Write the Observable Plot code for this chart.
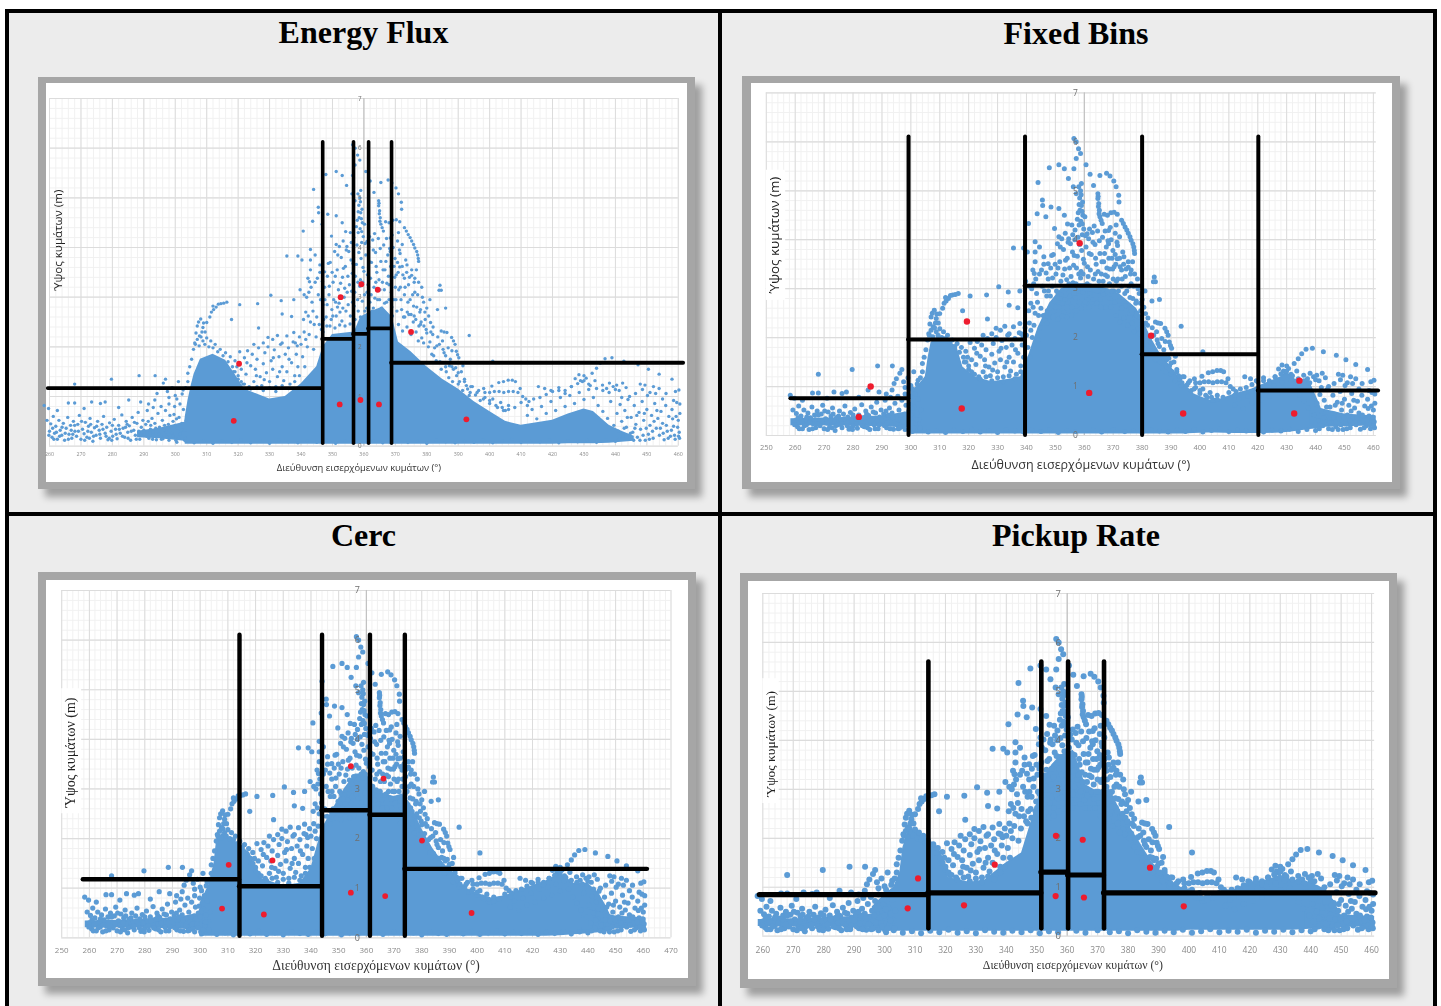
<!DOCTYPE html>
<html lang="el"><head><meta charset="utf-8">
<script src="https://cdn.jsdelivr.net/npm/d3@7"></script>
<script src="https://cdn.jsdelivr.net/npm/@observablehq/plot@0.6"></script>
<style>
html,body{margin:0;padding:0;background:#fff;overflow:hidden;width:1441px;height:1006px}
#page{position:relative;width:1441px;height:1006px;overflow:hidden}
.cell{position:absolute;background:#ececec}
.bar{position:absolute;background:#000}
.frame{position:absolute;background:#a6a6a6;box-shadow:7px 8px 7px rgba(0,0,0,.33)}
.white{position:absolute;background:#fff}
.title{position:absolute;width:712px;text-align:center;font:bold 32px "Liberation Serif",serif;color:#000;line-height:36px}
svg{position:absolute;overflow:visible;filter:blur(.4px)}
</style></head><body><div id="page"></div>
<script>
const peakDots=[[356.4,6.07],[357.2,6],[358,5.86],[358.7,5.76],[357.2,5.66],[360.6,5.53],[347.9,5.47],[351.2,5.53],[353.1,5.45],[356.4,5.45],[362,5.34],[365.4,5.31],[367.7,5.36],[368.9,5.3],[370.2,5.2],[371,5.08],[371.9,4.91],[372,4.77],[354.5,5.25],[344,5.17],[363.2,5.11],[359,5.15],[358.7,5],[358.4,4.85],[359,4.7],[358.5,4.6],[359.5,4.5],[356.2,5.08],[357.2,4.94],[359.4,4.77],[360.2,4.47],[357.6,4.42],[358.2,4.3],[356.8,4.2],[359.8,4.22],[361,4.12],[358.1,5.08],[358.9,4.92],[358.2,4.72],[359.2,4.58],[357.9,4.55],[358.8,4.38],[359.3,4.32]];
const strandDots=[[364.7,4.94],[364.7,4.84],[365,4.74],[365.2,4.6],[365.4,4.47],[366.2,4.33],[366.9,4.52],[369.2,4.55],[371.4,4.52],[372.9,4.4],[374.1,4.26],[375.2,4.13],[376.2,3.99],[377.1,3.85],[377.4,3.72],[376.7,3.55],[376.2,3.38],[368,4.5],[370.3,4.56],[373.5,4.33],[374.7,4.2],[375.8,4.06],[376.8,3.92],[377.3,3.78],[364.8,4.89],[364.9,4.68],[365.1,4.53],[365.8,4.4]];
const leftPeakDots=[[345.5,4.81],[345.6,4.7],[343.7,4.53],[346.7,4.47],[348.5,4.67],[351.2,4.64],[353.1,4.5],[340.7,4.33],[354.2,4.32],[355.7,4.3],[349.7,4.23],[351.2,4.06],[353.4,4.13],[335.5,3.83],[343,3.96],[343,3.75],[344.5,3.85],[346,3.65],[347.5,3.51],[342.2,3.38],[343,3.55],[342.7,3.31],[339,3.83],[340.3,3.75],[341,3.05],[339.7,3.15]];
const rightPeakDots=[[368.4,4.19],[370.7,4.13],[372.2,4.06],[368.4,3.92],[369.9,3.78],[371.4,3.61],[373.7,3.65],[375.2,3.44],[372.9,3.38],[384.2,3.24],[383.9,3.14],[384.6,3.14],[383.4,2.75],[386,2.78],[393.5,2.23],[384.6,2.32],[386.4,2.29],[387.9,2.19],[389,2.05],[389.4,1.91],[390.2,1.78],[381.2,2.49],[381.9,2.25],[385.5,2.3],[388.5,2.12],[389.8,1.84]];
const shoulderDots=[[376,2.62],[378,2.75],[379.5,2.55],[377.5,2.42],[380,2.28],[381,2.1],[382.5,1.98],[384,2.05],[385.5,1.88],[383,1.72],[386,1.6],[387.5,1.75],[388.5,1.55],[387,1.38],[389.5,1.42],[391,1.5],[390,1.25],[392,1.3],[393,1.15],[394.5,1.2],[395.5,1.03],[396.5,1.12],[397,.92],[398.5,.98],[400,.86],[401,.95],[402.5,.78],[403.5,.88],[405,.72],[406,.82],[379,2.9],[380.6,2.62],[382,2.4],[383.5,2.2],[385,2.12],[386.8,1.98],[378.4,2.18],[381.6,1.85],[384.6,1.55],[388,1.92],[391.5,1.62],[393.5,1.02]];
const secondHumpDots=[[401,1.71],[398.1,1.16],[400.7,1.21],[402.9,1.28],[404.4,1.3],[405.9,1.33],[407.2,1.33],[408.2,1.3],[409.7,1.16],[398.5,1.08],[400,1.08],[401.5,1.1],[403,1.1],[404.5,1.08],[406,1.1],[407.5,1.1],[409,1.08],[404.4,.72],[410.5,1],[411.5,.95],[412.5,.9]];
const eastHumpDots=[[428.4,1.44],[430.7,1.37],[432.6,1.47],[434,1.57],[435.2,1.67],[436.7,1.76],[438.9,1.78],[442.7,1.71],[447.2,1.64],[450.5,1.55],[453.9,1.45],[458,1.35],[435.9,1.23],[438.1,1.27],[440.4,1.23],[442.3,1.27],[447.9,1.25],[449.4,1.23],[452.1,1.2],[453.9,1.16],[456.1,1.06],[459.1,1.1],[460.2,1.13],[446.4,1.06],[429.5,1.3],[431.5,1.25],[433.5,1.32],[424,1.12],[426,1.2],[422,1.18],[419.5,1.12],[417.5,1.16],[415.5,1.2],[444.5,1],[451,1.08],[455,.95],[458.5,.92],[460.5,.85],[427.2,1.36],[428.9,1.32],[430,1.42],[437.2,1.16],[439.3,1.2],[441.2,1.12],[443.4,1.18],[448.6,1.14],[450.2,1.02],[452.8,1.06]];
const westEdgeDots=[[268,1.25],[279.7,1.35],[288.5,1.42],[293.6,1.42],[296.9,1.35],[296.2,1.27],[295,1.16],[294.2,1.06],[293.5,.93],[266,.87],[268,.87],[273.4,.89],[276.2,.86],[277.7,.89],[285.2,.93],[289,.89],[258.3,.82],[259.7,.76],[304,1.47],[301,1.3],[302.5,1.13],[297.5,1.1],[299,1.18],[298,.98],[300,1.02],[291.5,.85],[293,.78],[295.5,.8],[282,.78],[271,.76],[262.5,.72]];
const westHumpDots=[[306.2,2.08],[307.7,2.22],[308.8,2.39],[310,2.49],[311.5,2.7],[313,2.8],[314.5,2.87],[316.4,2.9],[320.5,2.85],[326.2,2.87],[330.4,3.04],[333.7,2.93],[337.7,2.95],[334,2.66],[337,2.61],[317.9,2.55],[326.5,2.38],[332.5,2.23],[329.5,2.19],[335.5,2.22],[337.7,2.29],[338.2,2.08],[325,2.05],[328,2.08],[331,2.15],[334,2.08],[309.5,2.3],[311,2.6],[312.2,2.75],[307,2.42],[307.4,2.5],[308.1,2.56],[308.5,2.3],[309,2.48],[306.6,2.28],[313.7,2.86],[315.4,2.88],[312,2.82]];
const midCloudDots=[[318.5,1.5],[319,1.72],[320,1.35],[320.5,1.9],[321,1.55],[321.5,1.25],[322,1.78],[322.5,1.45],[323,1.92],[323.5,1.2],[324,1.62],[324.5,1.85],[325,1.3],[325.5,1.55],[326,1.75],[326.5,1.98],[327,1.4],[327.5,1.22],[328,1.66],[328.5,1.88],[329,1.48],[329.5,2],[330,1.3],[330.5,1.72],[331,1.55],[331.5,1.94],[332,1.2],[332.5,1.4],[333,1.8],[333.5,2.05],[334,1.6],[334.5,1.32],[335,1.85],[335.5,1.5],[336,1.98],[336.5,1.25],[337,1.68],[337.5,2.1],[338,1.42],[338.5,1.85],[339,1.6],[339.5,2.2],[340.5,1.8],[341,2.3],[341.5,2.7],[342,2],[342.5,3.1],[343,2.5],[343.5,2.9],[344,1.95],[344.5,3.3],[345,2.6],[345.5,3.05],[346,3.5],[346.5,2.35],[347,2.85],[347.5,3.2],[319.6,1.6],[322.8,1.68],[325.8,1.42],[328.3,1.34],[331.2,1.78],[333.2,1.5],[336.2,1.75],[338.8,2.02],[340,2.05],[341.2,1.6],[342.6,2.25],[343.8,2.72],[344.8,2.2],[346.2,2.95],[347.2,2.55],[341.8,3.0],[340.8,2.55]];
const coreDots=[[348,2.6],[348.4,3.42],[348.9,3.05],[349.3,3.7],[349.8,2.75],[350.2,3.3],[350.7,3.92],[351,2.9],[351.5,3.55],[351.9,3.15],[352.4,2.7],[352.8,3.8],[353.2,3.4],[353.7,3],[354.1,3.62],[354.6,4.02],[355,2.85],[355.4,3.25],[355.9,3.75],[356.3,3.48],[356.7,4],[357.1,3.1],[357.6,3.66],[358,2.95],[358.4,3.9],[358.9,3.35],[359.3,4.1],[359.7,3.6],[360.2,3.05],[360.6,3.85],[361.1,3.45],[361.5,4.02],[361.9,2.9],[362.4,3.7],[362.8,4.15],[363.2,3.2],[363.7,3.9],[364.1,3.5],[364.6,4.18],[365,2.95],[365.4,3.72],[365.9,3.3],[366.3,4.05],[366.7,3.55],[367.2,2.9],[367.6,3.85],[368,3.25],[368.5,3.62],[368.9,2.8],[369.3,4],[369.8,3.4],[370.2,2.95],[370.7,3.7],[371.1,3.15],[371.5,3.88],[372,2.75],[372.4,3.45],[372.9,3.05],[373.3,3.75],[373.8,2.7],[374.2,3.25],[374.7,2.95],[375.2,3.55],[375.7,2.5],[376.2,3.1],[376.8,2.8],[377.4,3.3],[378,2.45],[378.6,3],[379.4,2.7]];
const coreFillDots=[[347.6,2.95],[348.2,2.42],[348.7,3.68],[349,3.22],[349.6,2.55],[349.9,3.5],[350.4,2.95],[350.9,3.42],[351.2,2.62],[351.7,3.85],[352.1,2.88],[352.6,3.28],[353,2.52],[353.5,3.58],[353.9,3.18],[354.3,2.72],[354.9,3.42],[355.2,3.92],[355.7,2.62],[356.1,3.12],[356.5,3.68],[356.9,2.82],[357.3,3.42],[357.8,4.05],[358.2,2.72],[358.7,3.22],[359.1,3.78],[359.5,2.92],[360,3.52],[360.4,4.08],[360.9,2.78],[361.3,3.25],[361.7,3.72],[362.1,3.38],[362.6,2.72],[363,3.95],[363.5,2.98],[363.9,3.62],[364.3,2.7],[364.8,3.35],[365.2,3.98],[365.6,2.78],[366.1,3.55],[366.5,3.15],[367,3.72],[367.4,2.62],[367.8,3.42],[368.2,3.98],[368.7,3.1],[369.1,2.62],[369.6,3.62],[370,3.2],[370.5,2.72],[370.9,3.5],[371.3,3.95],[371.8,2.95],[372.2,3.62],[372.6,2.6],[373.1,3.2],[373.6,3.5],[374,2.9],[374.5,3.4],[375,2.65],[375.5,3.05],[376,3.3],[376.5,2.55],[377.1,3.05],[377.8,2.7],[378.4,3.2],[379.1,2.42],[380,2.78],[381,2.95],[346.8,3.32],[347,2.3],[345.8,2.45],[345.2,3.38],[344.2,2.45],[343.2,3.2],[342.3,2.62],[341.5,2.15],[352.2,4.02],[354.4,3.95],[356,4.1],[361.8,4.22],[363.4,4.28],[367.2,4.18],[369,4.25],[371,4.3]];
const coreLowerDots=[[348.3,2.85],[349.2,2.42],[350.1,2.62],[350.8,2.38],[351.6,2.8],[352.3,2.44],[353.3,2.78],[354,2.42],[354.7,3.1],[355.6,2.46],[356.4,2.9],[357.2,2.55],[358.1,3.3],[358.9,2.6],[359.6,3.3],[360.3,2.72],[361,3.1],[361.6,2.62],[362.3,3.05],[363,2.78],[363.8,3.3],[364.4,2.95],[365.1,3.15],[365.8,2.62],[366.6,2.88],[367.3,3.28],[368,2.95],[368.8,3.4],[369.5,2.95],[370.3,3.45],[371,2.45],[371.6,3.2],[372.3,2.32],[373,2.6],[373.7,2.4],[374.3,2.65],[375,2.25],[375.8,2.82],[376.6,2.3],[377.3,2.12],[378.2,2.5],[379,2.08],[379.8,2.35],[380.5,2],[381.3,2.3],[382.2,1.82],[383.2,2.02],[384.2,1.7],[385.2,1.95],[386.2,1.5],[387.2,1.62],[388.2,1.3],[389.2,1.58],[390.4,1.3],[391.4,1.12],[392.6,1.22],[393.8,1.08]];
const massFringeDots=[[300.5,.95],[301.5,.85],[302.2,1.05],[303.3,1.18],[304,1.3],[304.6,1.6],[305.2,1.75],[305.8,1.95],[306.4,2.05],[307,2.15],[307.6,2.02],[308.2,2.2],[308.8,2.12],[309.4,2.05],[310,2.18],[310.7,2],[311.3,2.12],[312,1.98],[312.7,2.05],[313.5,1.9],[314.3,1.95],[315.2,1.82],[316,1.88],[316.8,1.7],[317.5,1.8],[318.2,1.6],[319,1.5],[320,1.42],[321,1.3],[322,1.25],[324,1.15],[326,1.2],[328,1.12],[330,1.18],[332,1.1],[334,1.22],[336,1.16],[338,1.3],[339.5,1.42],[386,1.82],[388,1.6],[390,1.48],[392,1.35],[394,1.2],[396,1.08],[398,.95],[400,.92],[402,.82],[404,.78],[406,.74],[408,.78],[410,.88],[412,.82],[414,.95],[416,.98],[418,1.04],[420,1.1],[422,1.12],[424,1.06],[426,1.2],[428,1.26],[430,1.32],[432,1.22],[434,1.16],[436,1.12],[438,1.08],[440,1.14],[442,.98]];
const massFootDots=[[300.5,.08],[303,.12],[306,.07],[309,.1],[312,.06],[315,.11],[318,.08],[321,.13],[324,.07],[327,.1],[330,.06],[333,.12],[336,.09],[339,.07],[342,.11],[345,.08],[348,.12],[351,.06],[354,.1],[357,.08],[363,.11],[366,.07],[370,.12],[374,.08],[377,.1],[380,.06],[383,.12],[386,.09],[389,.07],[392,.11],[395,.08],[398,.13],[401,.07],[404,.1],[407,.14],[410,.08],[413,.11],[416,.09],[419,.13],[422,.07],[425,.11],[428,.09],[431,.13],[434,.08],[437,.12],[440,.1]];
const westBandDots=[[260,.3],[260.4,.45],[260.8,.18],[261.2,.6],[261.6,.26],[262,.4],[262.5,.14],[263,.52],[263.4,.32],[263.9,.22],[264.4,.46],[264.8,.12],[265.3,.36],[265.8,.58],[266.2,.24],[266.7,.42],[267.1,.16],[267.6,.5],[268.1,.3],[268.6,.2],[269,.44],[269.5,.62],[270,.14],[270.5,.34],[271,.25],[271.4,.48],[271.9,.18],[272.4,.4],[272.9,.56],[273.3,.28],[273.8,.1],[274.3,.37],[274.8,.22],[275.3,.5],[275.8,.32],[276.2,.16],[276.7,.44],[277.2,.6],[277.7,.26],[278.2,.38],[278.6,.13],[279.1,.47],[279.6,.3],[280.1,.2],[280.6,.54],[281,.34],[281.5,.15],[282,.42],[282.5,.26],[283,.63],[283.4,.36],[283.9,.18],[284.4,.5],[284.9,.28],[285.4,.41],[285.8,.12],[286.3,.58],[286.8,.32],[287.3,.22],[287.8,.46],[288.2,.68],[288.7,.14],[289.2,.38],[289.7,.52],[290.2,.24],[290.6,.44],[291.1,.72],[291.6,.16],[292.1,.34],[292.6,.56],[293,.28],[293.5,.46],[294,.13],[294.5,.66],[295,.38],[295.4,.22],[295.9,.52],[296.4,.32],[296.9,.72],[297.4,.18],[297.8,.44],[298.3,.62],[298.8,.27],[299.3,.5],[299.8,.8],[300.2,.12],[300.7,.36],[301.2,.58],[301.6,.24],[302.1,.46],[302.6,.74],[303,.32],[303.5,.52],[299.6,.64],[298,.85],[292.2,.42],[287,.48]];
const westBandFillDots=[[259.2,.52],[259.8,.22],[261,.36],[262.2,.28],[263.2,.2],[264,.38],[265,.26],[266,.14],[266.9,.32],[268,.42],[269.2,.3],[270.2,.5],[271.2,.12],[272.2,.3],[273.1,.44],[274,.2],[275,.4],[276,.24],[277,.34],[278,.2],[279,.16],[280,.42],[281.2,.24],[282.2,.34],[283.2,.2],[284.2,.38],[285,.16],[286,.3],[287.6,.14],[288.4,.3],[289,.22],[290,.32],[290.9,.2],[291.9,.26],[292.8,.14],[293.8,.36],[294.8,.24],[295.6,.14],[296.6,.42],[297.2,.28],[298,.12],[298.6,.38],[299.2,.2],[300,.42],[301,.16],[301.9,.32],[303.2,.16],[261.4,.14],[267.4,.24],[272.7,.16],[279.8,.12],[284.7,.44],[291.4,.5],[296.1,.15],[300.4,.55]];
const eastBandDots=[[412,.62],[413.5,.74],[415,.55],[416.5,.8],[418,.66],[419.5,.9],[421,.72],[422.5,.98],[424,.8],[425.5,1.02],[427,.86],[428.5,1.08],[430,.94],[431.5,1.14],[433,.98],[434.5,.82],[436,.7],[437.5,.56],[438.5,.9],[439.5,.42],[440.5,.66],[441,.3],[441.5,.84],[442,.5],[442.5,.2],[443,.72],[443.5,.38],[444,.94],[444.5,.14],[445,.58],[445.5,.28],[446,.82],[446.5,.44],[447,.18],[447.5,.68],[448,.34],[448.5,.9],[449,.52],[449.5,.12],[450,.74],[450.5,.24],[451,.42],[451.5,.62],[452,.16],[452.5,.86],[453,.36],[453.5,.56],[454,.22],[454.5,.7],[455,.46],[455.5,.13],[456,.82],[456.5,.3],[457,.6],[457.5,.2],[458,.74],[458.5,.4],[459,.14],[459.5,.88],[460,.52],[460.3,.28],[460.5,.66],[460.4,.16],[459.8,.38],[458.2,.55],[456.2,.42],[453.2,.72],[449.8,.36],[446.8,.62],[441.3,.14],[442.8,.36],[443.8,.58],[444.8,.26],[445.8,.12],[446.2,.36],[447.8,.12],[448.8,.22],[449.2,.66],[450.8,.14],[451.8,.3],[452.3,.5],[454.3,.36],[455.2,.26],[456.8,.16],[457.8,.32],[458.8,.22],[459.3,.6],[460.1,.2]];
const allDots=[...peakDots,...strandDots,...leftPeakDots,...rightPeakDots,...shoulderDots,...secondHumpDots,...eastHumpDots,...westEdgeDots,...westHumpDots,...midCloudDots,...coreDots,...coreFillDots,...coreLowerDots,...massFringeDots,...massFootDots,...westBandDots,...westBandFillDots,...eastBandDots];

// Solid part of the cloud in each chart: [direction, top, bottom]
const massEnergy=[[288,.3,.17],[295,.36,.15],[303,.48,.1],[303.2,.6,.04],[304,.9,.04],[305,1.2,.04],[306,1.45,.04],[308,1.75,.04],[312,1.85,.04],[316,1.73,.04],[319,1.45,.04],[322,1.15,.04],[330,.95,.04],[335,1,.04],[340,1.25,.04],[345,1.6,.04],[347,2,.04],[350,2.25,.04],[357,2.3,.04],[359,2.6,.04],[362,2.7,.04],[366,2.8,.04],[369,2.6,.04],[371,2.1,.04],[375,1.9,.04],[380,1.6,.04],[385,1.35,.04],[390,1.15,.04],[395,.9,.04],[400,.7,.04],[405,.5,.04],[410,.42,.04],[415,.47,.04],[420,.52,.04],[425,.65,.05],[430,.75,.05],[433,.7,.05],[438,.42,.06],[442,.3,.08],[446,.2,.1]];
const massFixed=[[300,.9,.03],[303,1.05,.03],[305,1.2,.03],[306,1.6,.03],[307,1.9,.03],[309,2,.03],[312,2,.03],[316,1.8,.03],[318,1.4,.03],[322,1.2,.03],[328,1.1,.03],[334,1.15,.03],[338,1.2,.03],[340,1.5,.03],[344,2.2,.03],[348,2.7,.03],[352,3,.03],[356,3.1,.03],[362,3.1,.03],[368,3,.03],[372,2.9,.03],[376,2.7,.03],[378,2.6,.03],[380,2.4,.03],[383,2,.03],[386,1.7,.03],[390,1.4,.03],[394,1.1,.03],[398,.85,.04],[402,.75,.05],[405,.7,.05],[412,.85,.04],[418,.95,.04],[422,1.05,.04],[428,1.2,.05],[430,1.3,.06],[433,1.15,.08],[438,1.1,.12],[441,.7,.14],[443,.4,.16]];
const massCerc=[[300,.7,.03],[303,1.05,.03],[305,1.5,.03],[306,2,.03],[308,2.1,.03],[311,2,.03],[314,1.9,.03],[318,1.7,.03],[322,1.2,.03],[330,1.05,.03],[336,1.1,.03],[340,1.4,.03],[344,2.2,.03],[348,2.6,.03],[352,3,.03],[356,3.3,.03],[360,3.3,.03],[364,2.95,.03],[370,2.85,.03],[373,2.9,.03],[376,2.7,.03],[380,2.2,.03],[384,1.8,.03],[388,1.5,.03],[392,1.25,.03],[396,1,.03],[400,.9,.03],[405,.8,.03],[410,.85,.03],[415,.95,.03],[420,1.05,.03],[425,1.15,.03],[430,1.3,.04],[435,1.1,.06],[440,1.1,.08],[444,.9,.1],[447,.6,.12],[449,.35,.14]];
const massPickup=[[296,.6,.12],[300,.85,.1],[303,1,.1],[305,1.3,.1],[306,1.8,.1],[308,2.2,.1],[311,2.1,.1],[314,2,.1],[318,1.8,.1],[321,1.2,.1],[328,1.1,.1],[333,1.15,.1],[336,1.3,.1],[340,1.5,.1],[345,1.7,.1],[348,2.3,.1],[350,2.7,.1],[352,3.2,.1],[355,3.5,.1],[358,3.7,.1],[362,3.8,.1],[366,3.1,.1],[370,2.95,.1],[374,3,.1],[378,2.5,.1],[382,2.1,.1],[385,1.8,.1],[388,1.5,.1],[392,1.25,.1],[396,1.05,.1],[400,.9,.12],[404,.8,.12],[410,.85,.12],[415,.95,.12],[420,1.1,.12],[426,1.15,.12],[430,1.25,.12],[434,1.15,.12],[440,1.1,.14],[445,.95,.14],[448,.7,.16],[450,.4,.18]];
// Thin core of the low bands at both ends of the cloud
const westCore=[[258.5,.34,.2],[275,.36,.2],[290,.4,.18],[301,.5,.15]];
const eastCore=[[438,.6,.16],[450,.44,.18],[461,.4,.2]];

// Bin boundaries and levels, red markers
const edgesEnergy=[346.9,356.7,361.5,368.8], levelsEnergy=[[259.6,346.9,1.17],[346.9,356.7,2.16],[356.7,361.5,2.26],[361.5,368.8,2.37],[368.8,461.7,1.68]];
const redEnergy=[[318.6,.51],[320.3,1.66],[352.3,.84],[352.6,3],[358.9,.93],[359.2,3.26],[364.8,.84],[364.4,3.15],[375,2.3],[392.6,.54]];
const edgesFixed=[299.2,339.5,380,420.2], levelsFixed=[[258.5,299.2,.76],[299.2,339.5,1.96],[339.5,380,3.06],[380,420.2,1.66],[420.2,461.8,.92]];
const redFixed=[[282,.38],[286.1,1],[317.6,.55],[319.4,2.33],[358.4,3.93],[361.7,.87],[383.1,2.04],[394.2,.45],[432.6,.45],[434.4,1.12]];
const edgesCerc=[314.2,344,361.3,373.9], levelsCerc=[[257.8,314.2,1.18],[314.2,344,1.04],[344,361.3,2.57],[361.3,373.9,2.48],[373.9,461.5,1.39]];
const redCerc=[[307.9,.59],[310.3,1.47],[323,.47],[326.1,1.56],[354.4,3.46],[354.4,.91],[366.2,3.21],[366.8,.84],[380.1,1.96],[398,.5]];
const edgesPickup=[314.4,351.5,360.3,372.1], levelsPickup=[[259,314.4,.85],[314.4,351.5,.885],[351.5,360.3,1.31],[360.3,372.1,1.25],[372.1,461.3,.885]];
const redPickup=[[307.6,.57],[311,1.18],[326.1,.63],[336.2,1.46],[356.3,2.05],[356.2,.82],[365.1,1.97],[365.5,.79],[387.2,1.4],[398.3,.61]];

const titles=["Energy Flux","Fixed Bins","Cerc","Pickup Rate"];
const xLabel="Διεύθυνση εισερχόμενων κυμάτων (°)", yLabel="Ύψος κυμάτων (m)";
const yTicks=[0,1,2,3,4,5,6,7];
const xTicks250to460=[250,260,270,280,290,300,310,320,330,340,350,360,370,380,390,400,410,420,430,440,450,460];
const xTicks260to460=xTicks250to460.slice(1), xTicks250to470=[...xTicks250to460,470];

// Layout, in page pixels
const panels=[
 {title:0,tx:9,ty:14,frame:[37.5,77,695,489],white:[45.6,83.3,687,481.7],x0:48.6,x1:677.4,y7:98.3,y0:446,dom:[260,460],grid:[260,460],ticks:xTicks260to460,mass:massEnergy,bands:[],edges:edgesEnergy,levels:levelsEnergy,red:redEnergy,top:6.12,bot:.05,r:1.7,rr:2.9,vw:3.6,hw:3.8,tick:5.3,tickY:454,yDx:-4,lab:[358,468,9.4],ylab:[57,240,11.6],serif:false},
 {title:1,tx:721,ty:15,frame:[742.4,75.7,1400,489],white:[750.6,83.3,1392,482],x0:765.4,x1:1372.5,y7:92.7,y0:435.3,dom:[250,460],grid:[250,461],ticks:xTicks250to460,mass:massFixed,bands:[westCore,eastCore],edges:edgesFixed,levels:levelsFixed,red:redFixed,top:6.1,bot:0,r:2.5,rr:3.2,vw:4,hw:4,tick:7.5,tickY:447,yDx:-9,lab:[1080,465,12.5],ylab:[774,235,13.4],serif:false,patch:[250,256.7,2.76,5.42]},
 {title:2,tx:9,ty:517,frame:[37.8,572.3,695.6,985.7],white:[46,580,687.8,978.3],x0:61.2,x1:670.5,y7:590,y0:937.3,dom:[250,470],grid:[250,470],ticks:xTicks250to470,mass:massCerc,bands:[westCore,eastCore],edges:edgesCerc,levels:levelsCerc,red:redCerc,top:6.1,bot:.03,r:2.6,rr:2.9,vw:4.4,hw:4.4,tick:8,tickY:949.5,yDx:-9,lab:[375.6,965,13.6],ylab:[70,752,14],serif:true,patch:[250,257.2,2.5,5.02]},
 {title:3,tx:721,ty:517,frame:[739.8,573.3,1397,988],white:[747.6,581.3,1389,979.3],x0:761.9,x1:1370.7,y7:593.3,y0:936,dom:[260,460],grid:[260,461],ticks:xTicks260to460,mass:massPickup,bands:[westCore,eastCore],edges:edgesPickup,levels:levelsPickup,red:redPickup,top:5.6,bot:.15,r:3,rr:3.1,vw:4.6,hw:5.2,tick:8.5,tickY:950,yDx:-9,lab:[1072,965,11.8],ylab:[769.7,743.7,13.5],serif:true,patch:[260,265.4,2.71,5.26]}
];

const page=document.getElementById("page");
function box(cls,l,t,r,b){const d=document.createElement("div");d.className=cls;d.style.cssText=`left:${l}px;top:${t}px;width:${r-l}px;height:${b-t}px`;page.appendChild(d);return d;}
box("cell",9,13,718,512);box("cell",722,13,1433,512);box("cell",9,516,718,1006);box("cell",722,516,1433,1006);
box("bar",5,9,1437,13);box("bar",5,9,9,1006);box("bar",1433,9,1437,1006);box("bar",718,9,722,1006);box("bar",5,512,1437,516);

const BLUE="#5b9bd5",RED="#ee1c2e";
const band=rows=>Plot.areaY(rows,{x:d=>d[0],y1:d=>d[2],y2:d=>d[1],fill:BLUE,curve:"linear"});
for(const p of panels){
  const t=document.createElement("div");t.className="title";t.textContent=titles[p.title];t.style.left=p.tx+"px";t.style.top=p.ty+"px";t.style.width=(p.title%2?710:709)+"px";page.appendChild(t);
  box("frame",p.frame[0],p.frame[1],p.frame[2],p.frame[3]);
  box("white",p.white[0],p.white[1],p.white[2],p.white[3]);
  const [wl,wt,wr,wb]=p.white, W=wr-wl, H=wb-wt;
  const font=p.serif?'"Liberation Serif",serif':'"Open Sans",sans-serif';
  const minorX=d3.range(p.grid[0],p.grid[1]+.01,2), minorY=d3.range(0,7.01,.2);
  const majorX=p.ticks.filter(v=>v<=p.grid[1]);
  const marks=[
    Plot.ruleX(minorX,{x:d=>d,y1:0,y2:7,stroke:"#f1f1f1",strokeWidth:1}),
    Plot.ruleY(minorY,{y:d=>d,x1:p.grid[0],x2:p.grid[1],stroke:"#f1f1f1",strokeWidth:1}),
    Plot.ruleX(majorX,{x:d=>d,y1:0,y2:7,stroke:"#dcdcdc",strokeWidth:1}),
    Plot.ruleY(yTicks,{y:d=>d,x1:p.grid[0],x2:p.grid[1],stroke:"#dcdcdc",strokeWidth:1.2}),
    Plot.ruleX([360],{x:d=>d,y1:0,y2:7,stroke:"#bdbdbd",strokeWidth:1}),
    band(p.mass),
    ...p.bands.map(b=>band(b)),
    Plot.dot(allDots,{x:d=>d[0],y:d=>d[1],r:p.r,fill:BLUE,stroke:"none"}),
    Plot.axisX({ticks:p.ticks,tickSize:0,tickPadding:p.tickY-p.y0-p.tick*.35,fontSize:p.tick,fontFamily:'"Open Sans",sans-serif',color:"#8a8a8a",label:null,tickFormat:String}),
    Plot.text(yTicks,{x:360,y:d=>d,text:d=>String(d),dx:p.yDx,fontSize:p.tick+1,fill:"#6f6f6f",fontFamily:'"Open Sans",sans-serif'}),
    Plot.ruleX(p.edges,{x:d=>d,y1:p.bot,y2:p.top,stroke:"#000",strokeWidth:p.vw,strokeLinecap:"round"}),
    Plot.ruleY(p.levels,{y:d=>d[2],x1:d=>d[0],x2:d=>d[1],stroke:"#000",strokeWidth:p.hw,strokeLinecap:"round"}),
    Plot.dot(p.red,{x:d=>d[0],y:d=>d[1],r:p.rr,fill:RED,stroke:"none"}),
    Plot.text([xLabel],{frameAnchor:"top-left",dx:p.lab[0]-p.x0,dy:p.lab[1]-p.y7,text:d=>d,fontSize:p.lab[2],fontFamily:font,fill:"#333",textAnchor:"middle",lineAnchor:"middle"}),
    Plot.text([yLabel],{frameAnchor:"top-left",dx:p.ylab[0]-p.x0,dy:p.ylab[1]-p.y7,text:d=>d,rotate:-90,fontSize:p.ylab[2],fontFamily:font,fill:"#222",textAnchor:"middle",lineAnchor:"middle"})
  ];
  if(p.patch) marks.splice(5,0,Plot.rectY([p.patch],{x1:d=>d[0],x2:d=>d[1],y1:d=>d[2],y2:d=>d[3],fill:"#fff",inset:0}));
  const svg=Plot.plot({
    width:W,height:H,
    marginLeft:p.x0-wl,marginRight:wr-p.x1,marginTop:p.y7-wt,marginBottom:wb-p.y0,
    style:{background:"transparent",overflow:"visible"},
    x:{domain:p.dom,axis:null},y:{domain:[0,7],axis:null},
    marks
  });
  svg.style.left=wl+"px";svg.style.top=wt+"px";
  page.appendChild(svg);
}
</script></body></html>
